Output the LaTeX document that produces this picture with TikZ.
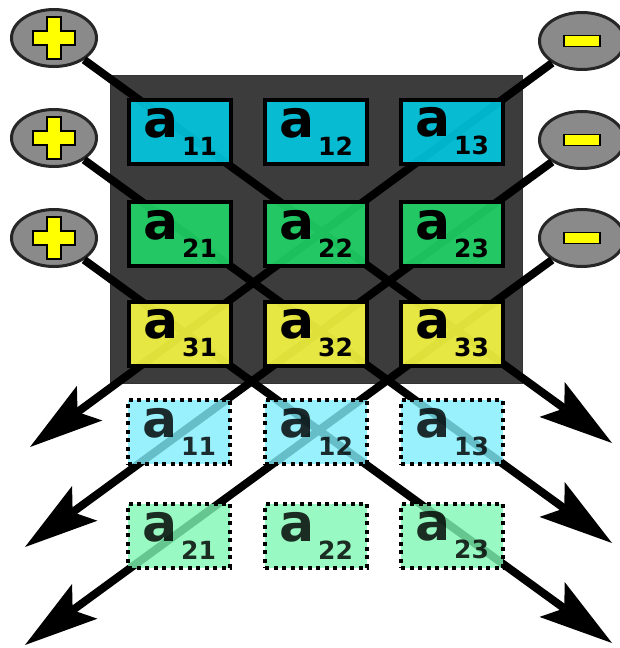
\documentclass[tikz,border=0pt]{standalone}
\usepackage{fontspec}
\setmainfont{DejaVu Sans}
\usetikzlibrary{arrows.meta,shapes.geometric}
\definecolor{board}{HTML}{3C3C3C}
\definecolor{rowone}{HTML}{00CDE8}
\definecolor{rowtwo}{HTML}{20DC6B}
\definecolor{rowthree}{HTML}{FFFF44}
\definecolor{copyone}{HTML}{80EEFC}
\definecolor{copytwo}{HTML}{80F8B4}
\definecolor{ovalgrey}{HTML}{8A8A8A}
\definecolor{signyellow}{HTML}{FFFF00}
\newcommand{\entry}[1]{a\hspace{4pt}\raisebox{-18pt}{\fontsize{25}{25}\selectfont #1}}

\begin{document}
\begin{tikzpicture}[x=1pt,y=-1pt,
  cell/.style={draw=black,line width=4pt,minimum width=102pt,minimum height=64pt,
    inner sep=0pt,fill opacity=0.88,text opacity=1,yshift=-2pt,font=\fontsize{52}{60}\selectfont\bfseries},
  copycell/.style={cell,fill opacity=0.8,text opacity=0.82,dash pattern=on 4pt off 4.5pt},
  ovalbox/.style={ellipse,draw=black!85,line width=3pt,fill=ovalgrey,minimum width=85pt,minimum height=57pt,inner sep=0pt},
  signbox/.style={fill=signyellow,draw=black,line width=1.5pt},
  diag/.style={line width=8pt,-{Stealth[length=74pt,width=43pt,inset=15pt,line width=0pt]}}]
\useasboundingbox (0,0) rectangle (620,648);
\fill[board,draw=black!80,line width=1pt] (110,75) rectangle (522,383);

% signs
\node[ovalbox] (p1) at (54,38) {};
\node[ovalbox] (p2) at (54,138) {};
\node[ovalbox] (p3) at (54,238) {};
\node[ovalbox] (m1) at (582,41) {};
\node[ovalbox] (m2) at (582,140) {};
\node[ovalbox] (m3) at (582,238) {};
\draw[signbox,shift={(p1)}] (-7,-21) -- (7,-21) -- (7,-7) -- (21,-7) -- (21,7) -- (7,7) -- (7,21) -- (-7,21) -- (-7,7) -- (-21,7) -- (-21,-7) -- (-7,-7) -- cycle;
\draw[signbox,shift={(p2)}] (-7,-21) -- (7,-21) -- (7,-7) -- (21,-7) -- (21,7) -- (7,7) -- (7,21) -- (-7,21) -- (-7,7) -- (-21,7) -- (-21,-7) -- (-7,-7) -- cycle;
\draw[signbox,shift={(p3)}] (-7,-21) -- (7,-21) -- (7,-7) -- (21,-7) -- (21,7) -- (7,7) -- (7,21) -- (-7,21) -- (-7,7) -- (-21,7) -- (-21,-7) -- (-7,-7) -- cycle;
\draw[signbox,shift={(m1)}] (-18,-5.5) rectangle (18,5.5);
\draw[signbox,shift={(m2)}] (-18,-5.5) rectangle (18,5.5);
\draw[signbox,shift={(m3)}] (-18,-5.5) rectangle (18,5.5);

% arrow ends
\coordinate (e1) at (612,443);
\coordinate (e2) at (612,543);
\coordinate (e3) at (612,643);
\coordinate (w1) at (30,447);
\coordinate (w2) at (25,547);
\coordinate (w3) at (25,645);
\draw[diag] (p1) -- (e1);
\draw[diag] (p2) -- (e2);
\draw[diag] (p3) -- (e3);
\draw[diag] (m1) -- (w1);
\draw[diag] (m2) -- (w2);
\draw[diag] (m3) -- (w3);

% matrix
\node[cell,fill=rowone] (a11) at (180,129.5) {\entry{11}};
\node[cell,fill=rowone] (a12) at (316,129.5) {\entry{12}};
\node[cell,fill=rowone] (a13) at (452,129.5) {\entry{13}};
\node[cell,fill=rowtwo] (a21) at (180,232) {\entry{21}};
\node[cell,fill=rowtwo] (a22) at (316,232) {\entry{22}};
\node[cell,fill=rowtwo] (a23) at (452,232) {\entry{23}};
\node[cell,fill=rowthree] (a31) at (180,331.5) {\entry{31}};
\node[cell,fill=rowthree] (a32) at (316,331.5) {\entry{32}};
\node[cell,fill=rowthree] (a33) at (452,331.5) {\entry{33}};

% repeated rows
\node[copycell,fill=copyone] (b11) at (179,430) {\entry{11}};
\node[copycell,fill=copyone] (b12) at (316,430) {\entry{12}};
\node[copycell,fill=copyone] (b13) at (452,430) {\entry{13}};
\node[copycell,fill=copytwo] (b21) at (179,533.5) {\entry{21}};
\node[copycell,fill=copytwo] (b22) at (316,533.5) {\entry{22}};
\node[copycell,fill=copytwo] (b23) at (452,533.5) {\entry{23}};
\end{tikzpicture}
\end{document}
